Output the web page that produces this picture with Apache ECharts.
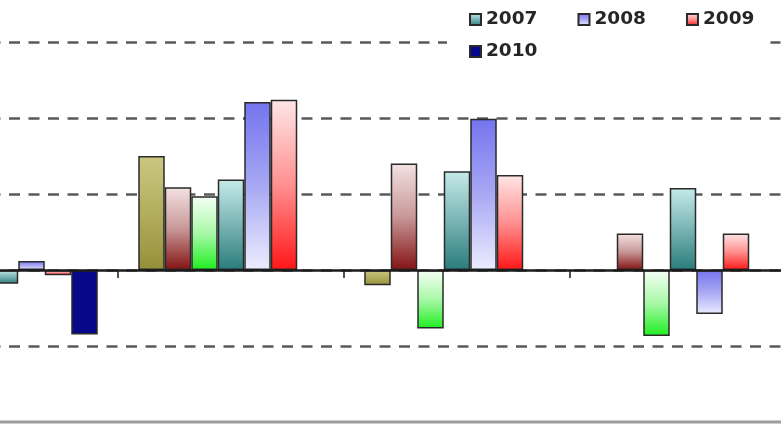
<!DOCTYPE html>
<html><head><meta charset="utf-8">
<script src="https://cdn.jsdelivr.net/npm/echarts@6/dist/echarts.min.js"></script>
<style>html,body{margin:0;padding:0;background:#fff}#c{width:781px;height:439px}</style>
</head><body><div id="c"></div>
<script>
const categories = ['', '', '', ''];
const seriesNames = ['2004', '2005', '2006', '2007', '2008', '2009', '2010'];
const s2004 = [null, 1.50, -0.20, null];
const s2005 = [null, 1.09, 1.40, 0.48];
const s2006 = [null, 0.97, -0.77, -0.87];
const s2007 = [-0.18, 1.19, 1.30, 1.08];
const s2008 = [0.12, 2.21, 1.99, -0.58];
const s2009 = [-0.07, 2.24, 1.25, 0.48];
const s2010 = [-0.85, null, null, null];
const values = [s2004, s2005, s2006, s2007, s2008, s2009, s2010];

function grad(stops) {
  return new echarts.graphic.LinearGradient(0, 0, 0, 1,
    stops.map((c, i) => ({ offset: i / (stops.length - 1), color: c })));
}
const fills = [
  grad(['#cbc782', '#b2ae5e', '#949039']),
  grad(['#f4e2e2', '#c89898', '#841212']),
  grad(['#f6fff6', '#a8f8a8', '#1fee1f']),
  grad(['#c6eaea', '#7ab4b4', '#2a7c7c']),
  grad(['#7474ee', '#a8a8f4', '#ececff']),
  grad(['#ffe6e6', '#ff9090', '#ff1616']),
  '#07078a'
];

const chart = echarts.init(document.getElementById('c'), null, { renderer: 'canvas' });
const legendText = { fontFamily: 'DejaVu Sans', fontWeight: 'bold', fontSize: 18.5, color: '#262626' };
chart.setOption({
  animation: false,
  backgroundColor: '#fff',
  legend: [
    {
      data: ['2007', '2008', '2009'],
      left: 447, top: 0,
      padding: [10, 16, 30, 22],
      icon: 'rect',
      itemWidth: 11, itemHeight: 11, itemGap: 40,
      backgroundColor: '#fff',
      textStyle: legendText
    },
    {
      data: ['2010'],
      left: 465, top: 38,
      padding: [4, 4, 4, 4],
      icon: 'rect',
      itemWidth: 11, itemHeight: 11,
      backgroundColor: '#fff',
      textStyle: legendText
    }
  ],
  grid: {
    left: -108, width: 904, top: -34, height: 456,
    outerBoundsMode: 'none', containLabel: false,
    show: true, borderColor: '#9c9c9c', borderWidth: 3, backgroundColor: 'transparent'
  },
  xAxis: {
    type: 'category', data: categories, z: 3,
    axisLine: { onZero: true, lineStyle: { color: '#1a1a1a', width: 2.5 } },
    axisTick: { show: true, interval: 0, length: 8, lineStyle: { color: '#1a1a1a', width: 1.5 } },
    axisLabel: { show: false },
    splitLine: { show: false }
  },
  yAxis: {
    type: 'value', min: -2, max: 4, interval: 1, z: 0,
    axisLine: { show: false }, axisTick: { show: false }, axisLabel: { show: false },
    splitLine: { show: true, showMinLine: false,
      lineStyle: { color: '#5a5a5a', width: 2.5, type: [11, 8.5] } }
  },
  series: seriesNames.map((n, i) => ({
    name: n, type: 'bar', data: values[i], z: 2,
    barWidth: 26.5, barGap: '0%',
    itemStyle: { color: fills[i], borderColor: '#2a2a2a', borderWidth: 1.5 }
  }))
});
</script></body></html>
